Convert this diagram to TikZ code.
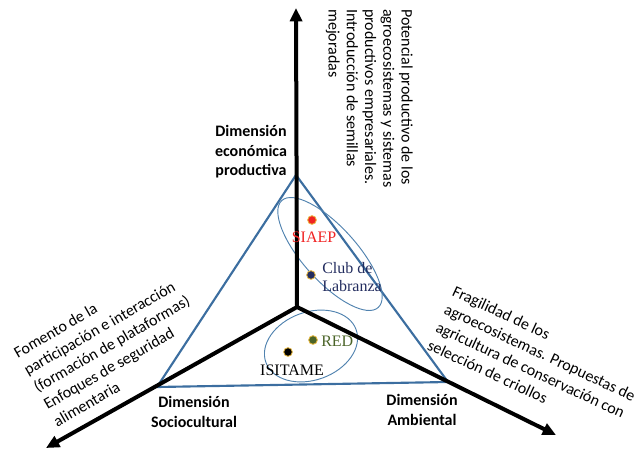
\documentclass[tikz,border=0pt]{standalone}
\usepackage{fontspec}
\setmainfont{Carlito}
\newfontfamily\timesfont{Liberation Serif}
\usetikzlibrary{positioning,arrows.meta}
\definecolor{triblue}{RGB}{60,110,160}
\definecolor{zoneblue}{RGB}{80,130,175}
\definecolor{siaepred}{RGB}{240,35,35}
\definecolor{clubnavy}{RGB}{35,45,95}
\definecolor{redgreen}{RGB}{75,100,40}
\definecolor{dotrim}{RGB}{235,185,60}

\begin{document}
\begin{tikzpicture}[
  x=0.75pt,y=-0.75pt,
  every node/.style={font=\fontsize{12}{13.7}\selectfont},
  dim/.style={font=\fontsize{12}{14.6}\selectfont\bfseries,align=center,inner sep=0pt},
  note/.style={align=left,inner sep=0pt},
  wide/.style={font=\fontsize{12}{14.8}\selectfont},
  actor/.style={font=\timesfont\fontsize{12}{14}\selectfont,inner sep=0pt},
  axis/.style={line width=3pt,-{Triangle[length=10pt,width=9pt]}},
  tri/.style={draw=triblue,line width=1.6pt,line join=round},
  zone/.style={draw=zoneblue,line width=0.7pt},
  dot/.style={circle,draw=dotrim,line width=0.6pt,minimum size=6.5pt,inner sep=0pt}
]
  \useasboundingbox (0,0) rectangle (638,450);

  \coordinate (o) at (297,307);
  \coordinate (ve) at (296,175);
  \coordinate (vs) at (157,387);
  \coordinate (va) at (448,382);
  \coordinate (up) at (296,8);
  \coordinate (left) at (46,448);
  \coordinate (right) at (556,435);

  \draw[tri] (ve) -- (vs) -- (va) -- cycle;
  \draw[zone,rotate around={-48:(330,254)}] (330,254) ellipse [x radius=72,y radius=27];
  \draw[zone,rotate around={20:(311,346)}] (311,346) ellipse [x radius=48,y radius=34];

  \draw[axis] (o) -- (up);
  \draw[axis] (o) -- (left);
  \draw[axis] (o) -- (right);

  \node[dim] (econ) at (251,152) {Dimensión\\económica\\productiva};
  \node[dim] (socio) at (194,412) {Dimensión\\Sociocultural};
  \node[dim] (amb) at (422,410) {Dimensión\\Ambiental};

  \node[note,rotate=-90,anchor=north west] (potencial) at (413,9)
    {Potencial productivo de los\\agroecosistemas y sistemas\\productivos empresariales.\\Introducción de semillas\\mejoradas};
  \node[note,wide,rotate=30,anchor=north west] (fomento) at (12,349)
    {Fomento de la\\participación e interacción\\(formación de plataformas)\\Enfoques de seguridad\\alimentaria};
  \node[note,wide,rotate=-25,anchor=north west] (fragilidad) at (456,285)
    {Fragilidad de los\\agroecosistemas. Propuestas de\\agricultura de conservación con\\selección de criollos};

  \node[dot,fill=siaepred] (siaepdot) at (312,220) {};
  \node[dot,fill=clubnavy] (clubdot) at (311,275) {};
  \node[dot,fill=redgreen] (reddot) at (313,340) {};
  \node[dot,fill=black] (isitamedot) at (288,352) {};

  \node[actor,text=siaepred] (siaep) at (314,237) {SIAEP};
  \node[actor,text=clubnavy,align=left,anchor=west] (club) at (322,277) {Club de\\Labranza};
  \node[actor,text=redgreen,anchor=west] (red) at (321,341) {RED};
  \node[actor] (isitame) at (292,370) {ISITAME};
\end{tikzpicture}
\end{document}
